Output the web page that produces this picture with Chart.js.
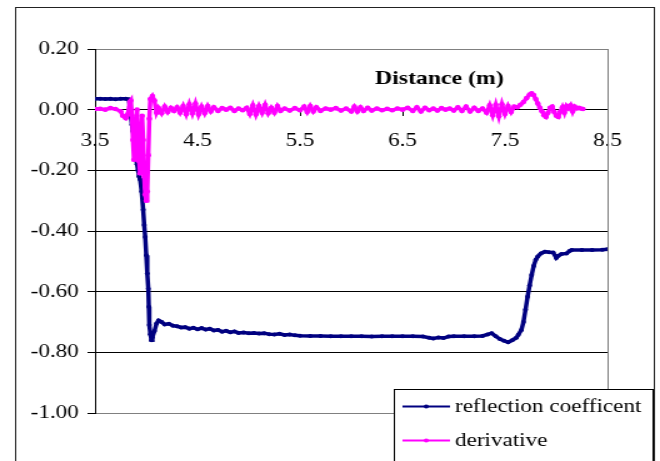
<!DOCTYPE html>
<html lang="en">
<head>
    <meta charset="UTF-8">
    <title>Reflection coefficient</title>
    <style>
        html, body {
            margin: 0;
            padding: 0;
            background: #fff;
            overflow: hidden;
        }
        #wrap {
            width: 660px;
            height: 461px;
            overflow: hidden;
        }
        /* the reference is a stretched picture, so the chart is drawn narrower and stretched */
        #chart {
            transform: scaleX(1.25);
            transform-origin: 0 0;
        }
    </style>
</head>
<body>
    <div id="wrap">
        <canvas id="chart" width="528" height="461"></canvas>
    </div>

    <script src="https://cdn.jsdelivr.net/npm/chart.js"></script>
    <script>
        // reflection coefficient
        const reflX = [3.50, 3.55, 3.60, 3.65, 3.70, 3.75, 3.80, 3.83, 3.84, 3.85, 3.86, 3.87, 3.88, 3.89, 3.90,
            3.91, 3.92, 3.93, 3.94, 3.955, 3.97, 3.98, 3.99, 4.00, 4.01, 4.02, 4.025, 4.03, 4.04, 4.05, 4.06,
            4.08, 4.10, 4.12, 4.15, 4.18, 4.22, 4.26, 4.30, 4.34, 4.38, 4.42, 4.46, 4.50, 4.54, 4.58, 4.62,
            4.66, 4.70, 4.74, 4.78, 4.82, 4.86, 4.90, 4.95, 5.00, 5.05, 5.10, 5.15, 5.20, 5.25, 5.30, 5.35,
            5.40, 5.45, 5.50, 5.60, 5.70, 5.80, 5.90, 6.00, 6.10, 6.20, 6.30, 6.40, 6.50, 6.60, 6.70, 6.76,
            6.80, 6.85, 6.90, 6.95, 7.00, 7.10, 7.20, 7.28, 7.33, 7.37, 7.41, 7.45, 7.49, 7.53, 7.57, 7.61,
            7.63, 7.66, 7.68, 7.70, 7.72, 7.74, 7.76, 7.78, 7.80, 7.82, 7.85, 7.89, 7.93, 7.97, 8.00, 8.02,
            8.05, 8.10, 8.13, 8.15, 8.25, 8.35, 8.45, 8.50];
        const reflY = [0.036, 0.036, 0.035, 0.036, 0.034, 0.036, 0.036, 0.034, 0.010, -0.02, -0.05, -0.07, -0.09, -0.13, -0.16,
            -0.18, -0.20, -0.22, -0.23, -0.27, -0.33, -0.38, -0.42, -0.48, -0.54, -0.59, -0.65, -0.71, -0.74, -0.76, -0.75,
            -0.73, -0.705, -0.695, -0.70, -0.708, -0.706, -0.712, -0.714, -0.718, -0.717, -0.722, -0.719, -0.724, -0.720, -0.725, -0.722,
            -0.728, -0.726, -0.732, -0.729, -0.734, -0.731, -0.736, -0.735, -0.737, -0.736, -0.738, -0.737, -0.740, -0.741, -0.739, -0.743,
            -0.741, -0.744, -0.745, -0.746, -0.746, -0.747, -0.747, -0.747, -0.747, -0.748, -0.747, -0.747, -0.747, -0.747, -0.748, -0.752,
            -0.754, -0.751, -0.753, -0.748, -0.747, -0.747, -0.747, -0.746, -0.741, -0.737, -0.747, -0.756, -0.762, -0.767, -0.760, -0.752,
            -0.742, -0.726, -0.700, -0.660, -0.617, -0.580, -0.545, -0.515, -0.495, -0.484, -0.474, -0.468, -0.470, -0.471, -0.489, -0.482,
            -0.476, -0.474, -0.466, -0.463, -0.463, -0.463, -0.462, -0.460];

        // derivative
        const derivX = [3.50, 3.55, 3.60, 3.65, 3.70, 3.75, 3.77, 3.80, 3.82, 3.84, 3.85, 3.86, 3.87, 3.88, 3.89,
            3.90, 3.91, 3.92, 3.93, 3.94, 3.95, 3.96, 3.97, 3.98, 3.99, 4.00, 4.01, 4.02, 4.03, 4.04, 4.06,
            4.08, 4.10, 4.12, 4.15, 4.18, 4.21, 4.24, 4.27, 4.30, 4.33, 4.36, 4.39, 4.42, 4.45, 4.48, 4.51,
            4.54, 4.57, 4.60, 4.63, 4.66, 4.70, 4.74, 4.78, 4.82, 4.86, 4.90, 4.94, 4.98, 5.01, 5.04, 5.07,
            5.10, 5.13, 5.16, 5.19, 5.22, 5.25, 5.28, 5.31, 5.35, 5.40, 5.45, 5.50, 5.54, 5.57, 5.60, 5.63,
            5.66, 5.70, 5.75, 5.80, 5.85, 5.90, 5.95, 6.00, 6.03, 6.06, 6.09, 6.12, 6.16, 6.20, 6.25, 6.30,
            6.35, 6.40, 6.45, 6.50, 6.55, 6.60, 6.64, 6.68, 6.72, 6.76, 6.80, 6.84, 6.88, 6.92, 6.96, 7.00,
            7.04, 7.08, 7.12, 7.16, 7.20, 7.24, 7.28, 7.32, 7.35, 7.38, 7.41, 7.44, 7.47, 7.50, 7.53, 7.56,
            7.59, 7.62, 7.65, 7.68, 7.71, 7.74, 7.76, 7.78, 7.80, 7.82, 7.84, 7.86, 7.88, 7.90, 7.92, 7.94,
            7.96, 7.98, 8.00, 8.02, 8.04, 8.06, 8.08, 8.10, 8.12, 8.14, 8.16, 8.18, 8.20, 8.22, 8.24, 8.26];
        const derivY = [0.002, 0.003, 0.000, 0.005, 0.002, -0.005, -0.020, -0.028, -0.015, 0.025, 0.030, -0.020, -0.100, -0.165, -0.120,
            -0.040, 0.000, -0.080, -0.170, -0.210, -0.120, -0.020, -0.100, -0.220, -0.280, -0.300, -0.270, -0.150, -0.030, 0.035, 0.045,
            0.030, -0.010, 0.005, -0.012, 0.010, -0.008, 0.006, -0.004, 0.008, -0.010, 0.012, -0.015, 0.018, -0.012, 0.020, -0.016,
            0.010, -0.012, 0.012, -0.006, 0.008, -0.004, 0.005, 0.000, 0.006, -0.004, 0.004, -0.002, 0.006, -0.014, 0.014, -0.016,
            0.012, -0.010, 0.016, -0.012, 0.006, -0.010, 0.012, -0.004, 0.004, -0.003, 0.005, -0.002, 0.010, -0.008, 0.012, -0.006,
            0.008, -0.004, 0.004, 0.000, 0.005, -0.003, 0.004, -0.006, 0.010, -0.006, 0.008, -0.004, 0.006, -0.003, 0.004, -0.002,
            0.003, -0.002, 0.004, 0.000, 0.006, -0.004, 0.008, -0.006, 0.006, -0.002, 0.004, -0.003, 0.005, 0.000, 0.004, -0.003,
            0.008, -0.004, 0.010, -0.006, 0.006, -0.004, 0.004, -0.010, 0.014, -0.018, 0.016, -0.022, 0.018, -0.014, 0.012, -0.008,
            0.010, 0.008, 0.016, 0.025, 0.038, 0.050, 0.054, 0.048, 0.035, 0.020, 0.006, -0.005, -0.018, -0.024, -0.010, 0.006,
            0.010, -0.008, -0.020, -0.024, -0.006, 0.008, -0.010, 0.012, 0.004, 0.014, -0.006, 0.010, 0.004, 0.006, 0.004, 0.002];

        const seriesNames = ['reflection coefficent', 'derivative'];
        const yTicks = [0.2, 0, -0.2, -0.4, -0.6, -0.8, -1.0];
        const xTicks = [3.5, 4.5, 5.5, 6.5, 7.5, 8.5];
        const axisTitle = 'Distance (m)';

        const serif = "'Liberation Serif', 'Times New Roman', serif";
        Chart.defaults.font.family = serif;
        Chart.defaults.color = '#000';

        const toPoints = (xs, ys) => xs.map((x, i) => ({ x: x, y: ys[i] }));

        // plot border, outer frame, title and the boxed legend
        const decorations = {
            id: 'decorations',
            beforeDatasetsDraw(chart) {
                const a = chart.chartArea;
                const ctx = chart.ctx;
                ctx.save();
                ctx.strokeStyle = '#808080';
                ctx.lineWidth = 1;
                ctx.beginPath();
                ctx.moveTo(a.right + 0.5, a.top);
                ctx.lineTo(a.right + 0.5, a.bottom);
                ctx.stroke();
                ctx.restore();
            },
            afterDraw(chart) {
                const ctx = chart.ctx;
                const xs = chart.scales.x, ys = chart.scales.y;
                ctx.save();

                // title inside the plot
                ctx.fillStyle = '#000';
                ctx.font = 'bold 19px ' + serif;
                ctx.textAlign = 'center';
                ctx.textBaseline = 'middle';
                ctx.fillText(axisTitle, xs.getPixelForValue(6.86), ys.getPixelForValue(0.10));

                // outer frame
                ctx.strokeStyle = '#222';
                ctx.lineWidth = 1;
                ctx.strokeRect(12.5, 7.5, 511, 470);

                // legend box
                const lx = 315, ly = 389.5, lw = 207;
                ctx.fillStyle = '#fff';
                ctx.fillRect(lx, ly, lw, 80);
                ctx.strokeStyle = '#000';
                ctx.strokeRect(lx + 0.5, ly, lw, 80);
                ctx.font = '18.5px ' + serif;
                ctx.textAlign = 'left';
                ctx.textBaseline = 'middle';
                chart.data.datasets.forEach((ds, i) => {
                    const y = ly + 17 + i * 34;
                    ctx.strokeStyle = ds.borderColor;
                    ctx.lineWidth = 2;
                    ctx.beginPath();
                    ctx.moveTo(lx + 7, y);
                    ctx.lineTo(lx + 45, y);
                    ctx.stroke();
                    ctx.fillStyle = ds.borderColor;
                    ctx.beginPath();
                    ctx.arc(lx + 26, y, 2, 0, Math.PI * 2);
                    ctx.fill();
                    ctx.fillStyle = '#000';
                    ctx.fillText(ds.label, lx + 49, y + 1);
                });
                ctx.restore();
            }
        };

        const ctx = document.getElementById('chart').getContext('2d');
        const chart = new Chart(ctx, {
            type: 'line',
            data: {
                datasets: [{
                    label: seriesNames[0],
                    data: toPoints(reflX, reflY),
                    borderColor: '#000080',
                    backgroundColor: '#000080',
                    borderWidth: 3.5,
                    pointRadius: 2,
                    pointBorderWidth: 0,
                    tension: 0,
                    order: 1
                }, {
                    label: seriesNames[1],
                    data: toPoints(derivX, derivY),
                    borderColor: '#ff00ff',
                    backgroundColor: '#ff00ff',
                    borderWidth: 3.5,
                    pointRadius: 2.3,
                    pointBorderWidth: 0,
                    tension: 0,
                    order: 0
                }]
            },
            options: {
                responsive: false,
                animation: false,
                events: [],
                layout: {
                    padding: { top: 49, right: 42, bottom: 48, left: 0 }
                },
                scales: {
                    x: {
                        type: 'linear',
                        position: { y: 0 },
                        min: 3.5,
                        max: 8.5,
                        afterBuildTicks: (scale) => {
                            scale.ticks = xTicks.map(v => ({ value: v }));
                        },
                        ticks: {
                            padding: 14,
                            maxRotation: 0,
                            font: { size: 18.5 },
                            callback: (v) => Number(v).toFixed(1)
                        },
                        grid: {
                            drawOnChartArea: false,
                            drawTicks: true,
                            tickLength: 6,
                            color: '#000',
                            tickColor: '#000'
                        },
                        border: { display: true, color: '#000', width: 1 }
                    },
                    y: {
                        type: 'linear',
                        min: -1.0,
                        max: 0.2,
                        afterBuildTicks: (scale) => {
                            scale.ticks = yTicks.map(v => ({ value: v }));
                        },
                        afterFit: (scale) => {
                            scale.width = 76;
                        },
                        ticks: {
                            padding: 7,
                            font: { size: 18.5 },
                            callback: (v) => Number(v).toFixed(2)
                        },
                        grid: {
                            color: (c) => (c.tick && (c.tick.value === 0.2 || c.tick.value === -1.0)) ? '#808080' : '#000',
                            tickColor: '#000',
                            tickLength: 6,
                            lineWidth: 1
                        },
                        border: { display: true, color: '#000', width: 1 }
                    }
                },
                plugins: {
                    legend: { display: false },
                    tooltip: { enabled: false }
                }
            },
            plugins: [decorations]
        });
    </script>
</body>
</html>
